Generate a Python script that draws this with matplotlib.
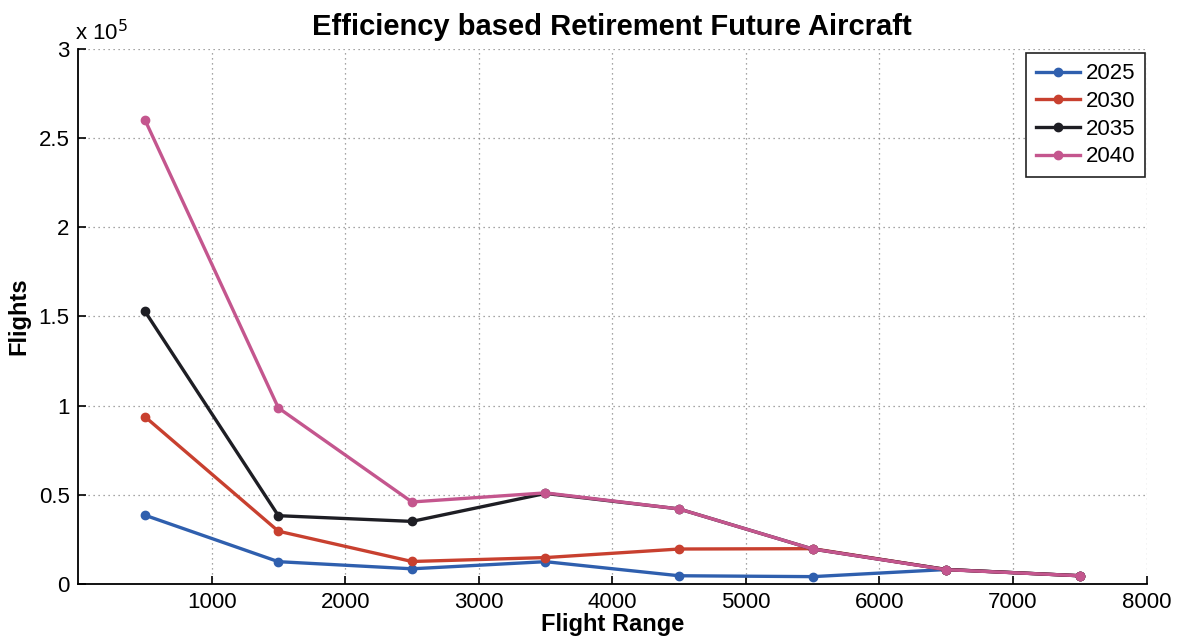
import matplotlib.pyplot as plt
import numpy as np

plt.rcParams["font.family"] = ["Liberation Sans", "DejaVu Sans"]

flight_range = [500, 1500, 2500, 3500, 4500, 5500, 6500, 7500]
years = ["2025", "2030", "2035", "2040"]
flights_2025 = [38500, 12400, 8400, 12400, 4500, 4000, 8000, 4500]
flights_2030 = [93800, 29500, 12500, 14700, 19500, 19700, 8000, 4500]
flights_2035 = [153000, 38200, 35000, 50700, 42000, 19500, 8000, 4500]
flights_2040 = [260500, 98700, 45900, 51000, 42000, 19500, 7900, 4500]
series = [flights_2025, flights_2030, flights_2035, flights_2040]
colors = ["#2f5fae", "#c8402f", "#1e1e24", "#c4568e"]

fig = plt.figure(figsize=(11.82, 6.38), dpi=100)
ax = fig.add_axes([0.066, 0.085, 0.904, 0.838])

for yr, vals, c in zip(years, series, colors):
    ax.plot(flight_range, vals, color=c, linewidth=2.4, marker="o",
            markersize=6, markerfacecolor=c, markeredgecolor=c, label=yr)

ax.set_xlim(0, 8000)
ax.set_ylim(0, 300000)
ax.set_xticks(np.arange(1000, 8001, 1000))
yt = np.arange(0, 300001, 50000)
ax.set_yticks(yt)
ax.set_yticklabels([f"{v / 1e5:g}" for v in yt])
ax.tick_params(direction="in", length=6, width=1.2, labelsize=16, pad=6)
ax.grid(True, linestyle=(0, (1, 3)), color="#888888", linewidth=0.9)
for s in ["top", "right"]:
    ax.spines[s].set_visible(False)
for s in ["left", "bottom"]:
    ax.spines[s].set_linewidth(1.3)

ax.text(-0.003, 1.008, r"x 10$^5$", transform=ax.transAxes, fontsize=16,
        ha="left", va="bottom")
ax.set_title("Efficiency based Retirement Future Aircraft", fontsize=21,
             fontweight="bold", pad=10)
ax.set_xlabel("Flight Range", fontsize=17, fontweight="bold", labelpad=0)
ax.set_ylabel("Flights", fontsize=17, fontweight="bold", labelpad=6)

leg = ax.legend(loc="upper right", fontsize=16, fancybox=False, framealpha=1,
                edgecolor="#222222", handlelength=2.0, borderpad=0.45,
                labelspacing=0.3, handletextpad=0.25, borderaxespad=0,
                bbox_to_anchor=(0.999, 0.992))
leg.get_frame().set_linewidth(1.2)

fig.savefig("out.png", dpi=100)
